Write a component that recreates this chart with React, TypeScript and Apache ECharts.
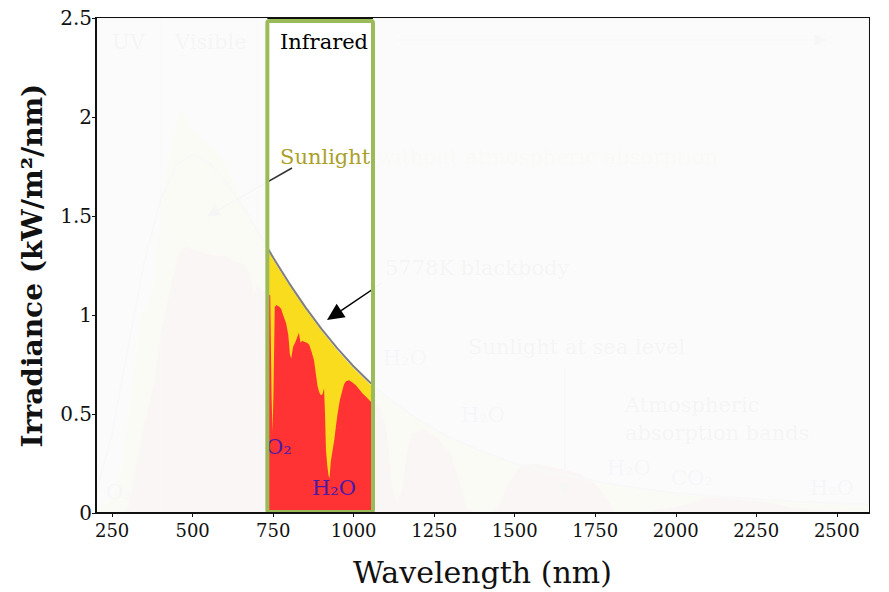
import React, { useEffect, useRef } from "react";
import * as echarts from "echarts";

// ---- Data ----
const xTickValues = [250, 500, 750, 1000, 1250, 1500, 1750, 2000, 2250, 2500];

// 5778K blackbody curve
const bbWavelength = [200, 250, 300, 350, 400, 450, 500, 550, 600, 650, 700, 725, 750, 775, 800, 850, 900, 950, 1000, 1050, 1100, 1200, 1300, 1400, 1500, 1600, 1800, 2000, 2200, 2400, 2600];
const bbIrradiance = [0.1, 0.4, 0.84, 1.27, 1.58, 1.76, 1.81, 1.77, 1.68, 1.56, 1.43, 1.36, 1.29, 1.225, 1.16, 1.04, 0.93, 0.83, 0.74, 0.66, 0.59, 0.47, 0.38, 0.31, 0.25, 0.21, 0.145, 0.1, 0.076, 0.056, 0.043];

// Sunlight without atmospheric absorption (top of atmosphere)
const topWavelength = [200, 250, 280, 300, 320, 340, 360, 380, 400, 420, 440, 460, 480, 500, 530, 560, 600, 650, 700, 725, 750, 775, 800, 850, 900, 950, 1000, 1050, 1100, 1200, 1300, 1400, 1500, 1600, 1700, 1800, 2000, 2200, 2400, 2600];
const topIrradiance = [0.01, 0.07, 0.22, 0.5, 0.75, 1.0, 1.05, 1.15, 1.5, 1.75, 1.9, 2.05, 2.0, 1.93, 1.88, 1.85, 1.77, 1.6, 1.42, 1.35, 1.28, 1.215, 1.15, 1.03, 0.92, 0.82, 0.73, 0.65, 0.585, 0.465, 0.375, 0.305, 0.245, 0.205, 0.17, 0.14, 0.097, 0.074, 0.054, 0.041];

// Sunlight at sea level
const seaWavelength = [280, 300, 320, 350, 380, 400, 420, 440, 460, 480, 500, 530, 560, 600, 630, 660, 680, 690, 700, 720, 732, 741, 745, 748, 751, 755, 760, 770, 775, 781, 790, 797, 802, 806, 812, 818, 823, 830, 835, 840, 846, 855, 862, 870, 877, 882, 888, 893, 898, 903, 908, 911, 914, 918, 922, 925, 929, 934, 940, 945, 950, 957, 965, 970, 976, 986, 995, 1007, 1017, 1027, 1040, 1053, 1065, 1080, 1100, 1110, 1120, 1135, 1150, 1165, 1180, 1220, 1260, 1300, 1330, 1350, 1380, 1420, 1450, 1480, 1520, 1560, 1600, 1650, 1700, 1750, 1790, 1810, 1900, 1950, 2000, 2050, 2100, 2200, 2300, 2350, 2400, 2500, 2600];
const seaIrradiance = [0, 0.03, 0.2, 0.45, 0.65, 0.9, 1.05, 1.2, 1.32, 1.35, 1.33, 1.32, 1.3, 1.3, 1.27, 1.26, 1.2, 1.1, 1.15, 1.12, 1.1, 1.1, 0.6, 0.41, 0.6, 1.04, 1.05, 1.04, 1.03, 1.0, 0.96, 0.9, 0.8, 0.78, 0.84, 0.86, 0.88, 0.91, 0.86, 0.87, 0.865, 0.86, 0.85, 0.81, 0.77, 0.71, 0.64, 0.61, 0.595, 0.6, 0.63, 0.5, 0.32, 0.24, 0.19, 0.175, 0.26, 0.31, 0.37, 0.44, 0.5, 0.57, 0.62, 0.65, 0.665, 0.67, 0.66, 0.645, 0.625, 0.605, 0.585, 0.562, 0.55, 0.53, 0.45, 0.3, 0.12, 0.06, 0.12, 0.3, 0.4, 0.42, 0.38, 0.3, 0.15, 0.03, 0, 0, 0.03, 0.15, 0.24, 0.25, 0.24, 0.22, 0.2, 0.15, 0.06, 0, 0, 0.02, 0.03, 0.05, 0.08, 0.07, 0.05, 0.03, 0.02, 0.01, 0];

const bandBoundaries = [400, 700];
const highlightRange = [732, 1060];

const SERIF = "'DejaVu Serif', serif";
const PURPLE = "#4a1aa8";

function zip(xs: number[], ys: number[]) {
  return xs.map((x, i) => [x, ys[i]]);
}

function arrow(x1: number, y1: number, x2: number, y2: number, color: string, z: number, headLen = 14, headW = 6, lw = 1.5) {
  const dx = x2 - x1;
  const dy = y2 - y1;
  const len = Math.sqrt(dx * dx + dy * dy);
  const ux = dx / len;
  const uy = dy / len;
  const bx = x2 - ux * headLen;
  const by = y2 - uy * headLen;
  const px = -uy;
  const py = ux;
  return [
    { type: "line", z, silent: true, shape: { x1, y1, x2: bx, y2: by }, style: { stroke: color, lineWidth: lw } },
    {
      type: "polygon",
      z,
      silent: true,
      shape: { points: [[x2, y2], [bx + px * headW, by + py * headW], [bx - px * headW, by - py * headW]] },
      style: { fill: color },
    },
  ];
}

function label(text: string, x: number, y: number, color: string, z = 10, size = 21) {
  return {
    type: "text",
    z,
    silent: true,
    x,
    y,
    style: { text, fill: color, font: `${size}px ${SERIF}`, textVerticalAlign: "middle", textAlign: "left" },
  };
}

export default function App() {
  const ref = useRef<HTMLDivElement>(null);

  useEffect(() => {
    const chart = echarts.init(ref.current!, null, { renderer: "svg" });
    chart.setOption({
      animation: false,
      backgroundColor: "#ffffff",
      grid: {
        left: 96,
        right: 20,
        top: 18,
        bottom: 79,
        show: true,
        borderColor: "#111",
        borderWidth: 2,
        backgroundColor: "transparent",
        outerBoundsMode: "none",
      },
      xAxis: {
        type: "value",
        min: 200,
        max: 2600,
        z: 80,
        name: "Wavelength (nm)",
        nameLocation: "middle",
        nameGap: 44,
        nameTextStyle: { fontFamily: SERIF, fontSize: 30, color: "#111" },
        axisLine: { lineStyle: { color: "#111", width: 2 } },
        axisTick: { show: true, length: 4, lineStyle: { color: "#111" }, customValues: xTickValues },
        axisLabel: { fontFamily: SERIF, fontSize: 18, color: "#111", margin: 8, customValues: xTickValues, formatter: (v: number) => String(v) },
        splitLine: { show: false },
      },
      yAxis: {
        type: "value",
        min: 0,
        max: 2.5,
        interval: 0.5,
        z: 80,
        name: "Irradiance (kW/m²/nm)",
        nameLocation: "middle",
        nameGap: 50,
        nameTextStyle: { fontFamily: SERIF, fontSize: 28, fontWeight: "bold", color: "#111" },
        axisLine: { lineStyle: { color: "#111", width: 2 } },
        axisTick: { show: true, length: 4, lineStyle: { color: "#111" } },
        axisLabel: { fontFamily: SERIF, fontSize: 20, color: "#111", margin: 4, formatter: (v: number) => String(v) },
        splitLine: { show: false },
      },
      series: [
        {
          name: "Sunlight without atmospheric absorption",
          type: "line",
          data: zip(topWavelength, topIrradiance),
          showSymbol: false,
          lineStyle: { width: 0 },
          areaStyle: { color: "#fadc1e", opacity: 1 },
          z: 2,
        },
        {
          name: "Sunlight at sea level",
          type: "line",
          data: zip(seaWavelength, seaIrradiance),
          showSymbol: false,
          lineStyle: { width: 0 },
          areaStyle: { color: "#ff3333", opacity: 1 },
          z: 3,
        },
        {
          name: "5778K blackbody",
          type: "line",
          data: zip(bbWavelength, bbIrradiance),
          showSymbol: false,
          lineStyle: { width: 2, color: "#7f7f7f" },
          z: 4,
          markLine: {
            silent: true,
            symbol: "none",
            label: { show: false },
            lineStyle: { color: "#888", type: "dotted", width: 1.5 },
            data: bandBoundaries.map((b) => ({ xAxis: b })),
          },
        },
      ],
    });

    const px = (x: number, y: number) => chart.convertToPixel({ gridIndex: 0 }, [x, y]) as number[];
    const [plotL, plotB] = px(200, 0);
    const [plotR, plotT] = px(2600, 2.5);
    const [winL] = px(highlightRange[0], 0);
    const [winR] = px(highlightRange[1], 0);

    const OV = 50;
    const fade = { fill: "#fbfbfb", opacity: 0.975 };

    const graphics: any[] = [
      label("UV", 112, 42, "#000"),
      label("Visible", 175, 42, "#000"),
      label("Infrared", 280, 42, "#000"),
      ...arrow(395, 40, 828, 40, "#555", 10, 14, 6, 1.2),
      label("Sunlight without atmospheric absorption", 280, 157, "#aaa02a"),
      ...arrow(292, 168, 206, 217, "#333", 10, 14, 6, 1.5),
      label("5778K blackbody", 385, 268, "#000"),
      ...arrow(382, 283, 327, 320, "#000", 10, 17, 8, 1.5),
      label("Sunlight at sea level", 468, 347, "#000"),
      ...arrow(565, 367, 565, 497, "#333", 10, 14, 6, 1.2),
      label("Atmospheric", 625, 405, "#000"),
      label("absorption bands", 625, 433, "#000"),
      label("H₂O", 383, 358, PURPLE),
      label("H₂O", 461, 415, PURPLE),
      label("H₂O", 607, 468, PURPLE),
      label("CO₂", 671, 478, PURPLE),
      label("H₂O", 810, 488, PURPLE),
      label("O₃", 106, 492, PURPLE),
      label("O₂", 266, 447, PURPLE),
      label("H₂O", 312, 488, PURPLE),
      // fading overlays outside the highlighted window
      { type: "rect", z: OV, silent: true, shape: { x: plotL, y: plotT, width: winL - plotL, height: plotB - plotT }, style: fade },
      { type: "rect", z: OV, silent: true, shape: { x: winR, y: plotT, width: plotR - winR, height: plotB - plotT }, style: fade },
      // highlighted window frame
      {
        type: "rect",
        z: OV + 5,
        silent: true,
        shape: { x: winL, y: plotT + 3, width: winR - winL, height: plotB - plotT - 4, r: 2 },
        style: { fill: "none", stroke: "#9bbb59", lineWidth: 4 },
      },
    ];

    chart.setOption({ graphic: graphics });

    return () => chart.dispose();
  }, []);

  return <div ref={ref} style={{ position: "fixed", left: 0, top: 0, width: 889, height: 592 }} />;
}
